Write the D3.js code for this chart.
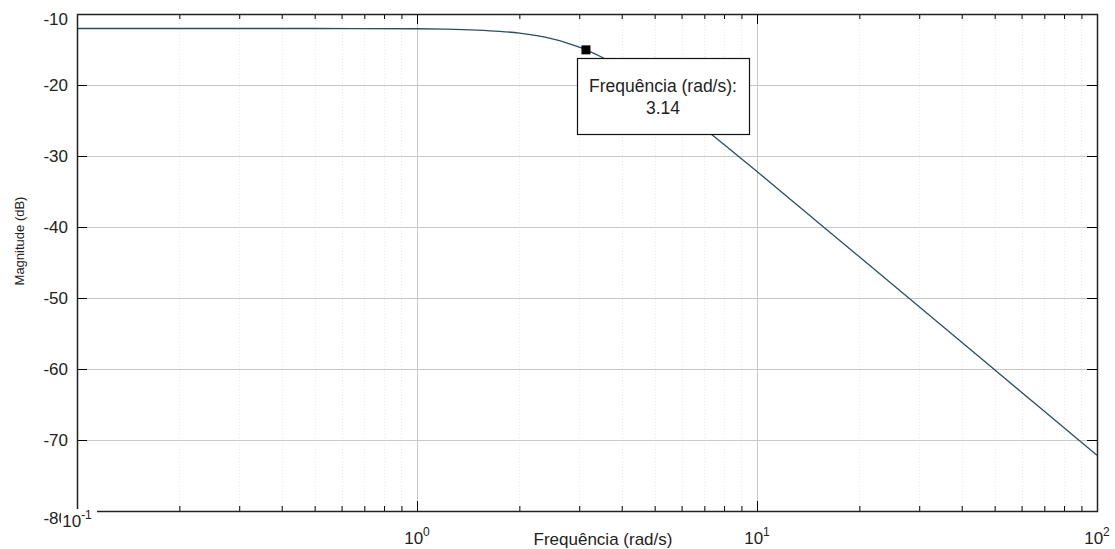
<!DOCTYPE html>
<html>
<head>
<meta charset="utf-8">
<script src="https://cdn.jsdelivr.net/npm/d3@7"></script>
<style>
  html, body { margin: 0; padding: 0; background: #fff; }
  svg { display: block; font-family: "Liberation Sans", Arial, sans-serif; }
</style>
</head>
<body>
<div id="chart"></div>
<script>
const width = 1115, height = 549;
const margin = ({top: 14, right: 18, bottom: 38, left: 77});

// Bode magnitude
const freq = [0.1, 0.2, 0.5, 1, 1.2, 1.5, 1.75, 2, 2.25, 2.5, 2.75, 3, 3.14, 3.5, 4, 5, 6, 7, 8, 10, 12, 15, 20, 30, 40, 50, 70, 100];
const magDb = [-12.04, -12.04, -12.04, -12.08, -12.13, -12.26, -12.44, -12.70, -13.06, -13.51, -14.05, -14.67, -15.05, -16.09, -17.64, -20.74, -23.60, -26.13, -28.38, -32.19, -35.34, -39.21, -44.20, -51.24, -56.24, -60.11, -65.96, -72.15];

const xMajor = [0.1, 1, 10, 100];
const xExp = ['-1', '0', '1', '2'];
const yTicks = [-80, -70, -60, -50, -40, -30, -20, -10];

const tipFreq = 3.14;
const tipMag = -15.05;
const tipTitle = 'Frequência (rad/s):';
const tipValue = '3.14';

const data = freq.map((f, i) => ({f, m: magDb[i]}));
const xMinor = d3.range(-1, 2).flatMap(e => d3.range(2, 10).map(k => k * Math.pow(10, e)));

const svg = d3.select('#chart').append('svg')
  .attr('width', width).attr('height', height);

const x = d3.scaleLog()
  .domain([0.1, 100])
  .range([margin.left, width - margin.right]);

const y = d3.scaleLinear()
  .domain([-80, -10])
  .range([height - margin.bottom, margin.top]);

const x0 = margin.left, x1 = width - margin.right;
const y0 = height - margin.bottom, y1 = margin.top;

// grid: minor dotted, major solid
const grid = svg.append('g');
grid.selectAll('line.minor')
  .data(xMinor)
  .join('line')
  .attr('x1', d => Math.round(x(d)) + 0.5).attr('x2', d => Math.round(x(d)) + 0.5)
  .attr('y1', y1).attr('y2', y0)
  .attr('stroke', '#ebebeb')
  .attr('stroke-dasharray', '1,2');

grid.selectAll('line.vmaj')
  .data(xMajor.slice(1, -1))
  .join('line')
  .attr('x1', d => Math.round(x(d)) + 0.5).attr('x2', d => Math.round(x(d)) + 0.5)
  .attr('y1', y1).attr('y2', y0)
  .attr('stroke', '#c8c8c8');

grid.selectAll('line.hmaj')
  .data(yTicks.slice(1, -1))
  .join('line')
  .attr('x1', x0).attr('x2', x1)
  .attr('y1', d => Math.round(y(d)) + 0.5).attr('y2', d => Math.round(y(d)) + 0.5)
  .attr('stroke', '#c8c8c8');

// magnitude curve
const line = d3.line()
  .x(d => x(d.f))
  .y(d => y(d.m))
  .curve(d3.curveMonotoneX);

svg.append('path')
  .datum(data)
  .attr('d', line)
  .attr('fill', 'none')
  .attr('stroke', '#2d4e5c')
  .attr('stroke-width', 1.3);

// ticks pointing inwards on all four sides
function ticks(axis, tv, size, tr) {
  svg.append('g')
    .attr('transform', tr)
    .call(axis.tickValues(tv).tickSize(-size).tickFormat(''))
    .call(g => g.select('.domain').remove())
    .call(g => g.selectAll('line').attr('stroke', '#000'));
}
ticks(d3.axisBottom(x), xMajor, 10, `translate(0,${y0})`);
ticks(d3.axisBottom(x), xMinor, 5, `translate(0,${y0})`);
ticks(d3.axisTop(x), xMajor, 10, `translate(0,${y1})`);
ticks(d3.axisTop(x), xMinor, 5, `translate(0,${y1})`);
ticks(d3.axisLeft(y), yTicks, 10, `translate(${x0},0)`);
ticks(d3.axisRight(y), yTicks, 10, `translate(${x1},0)`);

svg.append('rect')
  .attr('x', x0 + 0.5).attr('y', y1 + 0.5)
  .attr('width', x1 - x0).attr('height', y0 - y1)
  .attr('fill', 'none')
  .attr('stroke', '#222')
  .attr('stroke-width', 1.5);

// y tick labels
svg.append('g').selectAll('text')
  .data(yTicks)
  .join('text')
  .attr('x', x0 - 9)
  .attr('y', d => y(d) + (d === -10 ? 11 : d === -80 ? 13 : 6))
  .attr('text-anchor', 'end')
  .attr('font-size', 17)
  .attr('fill', '#222')
  .text(d => d);

// x tick labels 10^n
const xl = svg.append('g').selectAll('g')
  .data(xMajor)
  .join('g')
  .attr('transform', (d, i) => `translate(${x(d)},${i === 0 ? 527 : 544})`);

xl.filter((d, i) => i === 0).append('rect')
  .attr('x', -16).attr('y', -18).attr('width', 36).attr('height', 22)
  .attr('fill', '#fff');

xl.append('text')
  .attr('text-anchor', 'middle')
  .attr('font-size', 17)
  .attr('fill', '#222')
  .call(t => t.append('tspan').text('10'))
  .call(t => t.append('tspan')
    .attr('font-size', 12)
    .attr('dy', -8)
    .text((d, i) => xExp[i]));

// axis titles
svg.append('text')
  .attr('x', 603).attr('y', 545)
  .attr('text-anchor', 'middle')
  .attr('font-size', 17)
  .attr('fill', '#222')
  .text('Frequência (rad/s)');

svg.append('text')
  .attr('transform', 'translate(24,241) rotate(-90)')
  .attr('text-anchor', 'middle')
  .attr('font-size', 13)
  .attr('fill', '#222')
  .text('Magnitude (dB)');

// data tip
const tx = x(tipFreq), ty = y(tipMag);
svg.append('rect')
  .attr('x', tx - 4.5).attr('y', ty - 4.5)
  .attr('width', 9).attr('height', 9)
  .attr('fill', '#000');

const tip = svg.append('g')
  .attr('transform', `translate(${Math.round(tx) - 9},${Math.round(ty) + 8})`);

tip.append('rect')
  .attr('x', 0.5).attr('y', 0.5)
  .attr('width', 172).attr('height', 76)
  .attr('fill', '#fff')
  .attr('stroke', '#111')
  .attr('stroke-width', 1.2);

tip.append('text')
  .attr('x', 86).attr('y', 34)
  .attr('text-anchor', 'middle')
  .attr('font-size', 17.5)
  .attr('fill', '#222')
  .text(tipTitle);

tip.append('text')
  .attr('x', 86).attr('y', 56)
  .attr('text-anchor', 'middle')
  .attr('font-size', 17.5)
  .attr('fill', '#222')
  .text(tipValue);
</script>
</body>
</html>
